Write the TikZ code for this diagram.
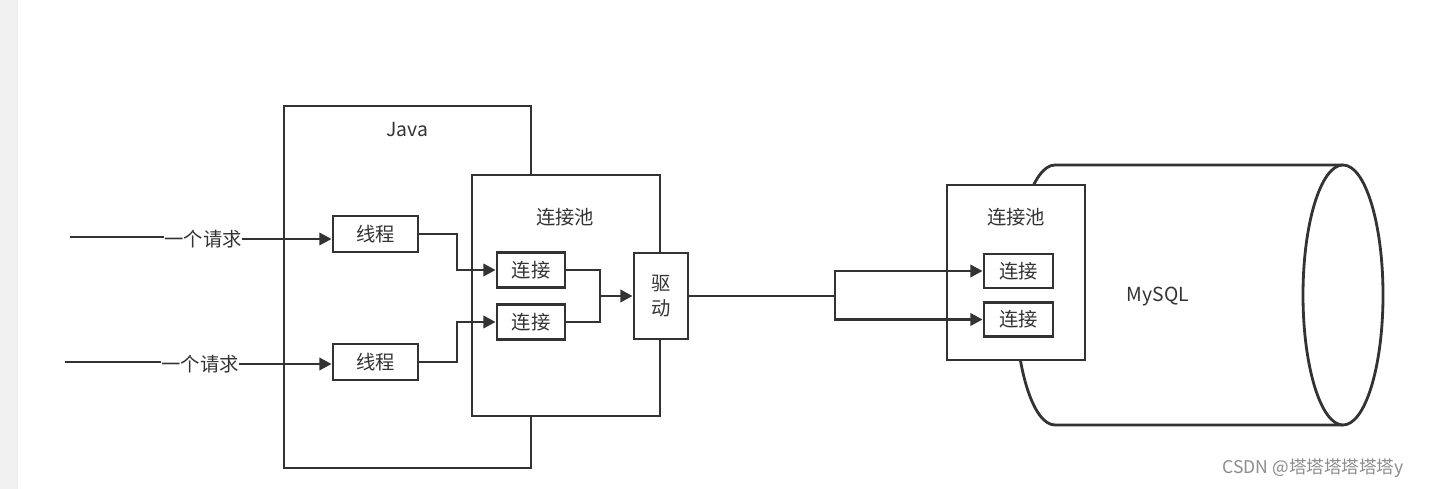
\documentclass[tikz,border=0pt]{standalone}
\usepackage{fontspec}
\setmainfont{Noto Sans CJK SC}
\usetikzlibrary{arrows.meta}
\definecolor{ln}{HTML}{333333}
\begin{document}
\begin{tikzpicture}[x=0.02cm,y=-0.02cm,
  bx/.style={draw=ln,line width=1.6pt,fill=white},
  ar/.style={draw=ln,line width=1.6pt,-{Triangle[length=7pt,width=7pt]}},
  ln/.style={draw=ln,line width=1.6pt},
  tx/.style={font=\fontsize{11pt}{12pt}\selectfont,text=ln,inner sep=0pt}]
\useasboundingbox (0,0) rectangle (1430,489);
\fill[white] (0,0) rectangle (1430,489);
\fill[black!6] (0,0) rectangle (18,489);
% Java
\draw[bx] (284,106) rectangle (531,468);
\node[tx] (java) at (407,130) {Java};
\draw[bx] (472,175) rectangle (660,416);
\node[tx] (pool) at (565,217) {连接池};
\node[bx,minimum width=1.7cm,minimum height=0.72cm,tx] (t1) at (375.5,234) {线程};
\node[bx,minimum width=1.7cm,minimum height=0.72cm,tx] (t2) at (375.5,362) {线程};
\node[bx,minimum width=1.36cm,minimum height=0.7cm,tx] (c1) at (531,270) {连接};
\node[bx,minimum width=1.36cm,minimum height=0.7cm,tx] (c2) at (531,322) {连接};
\node[bx,minimum width=1.08cm,minimum height=1.72cm,tx,align=center] (d) at (661,296) {驱\\[2pt]动};
\coordinate (s1) at (70,237);
\coordinate (s2) at (65,362);
\draw[ln] (s1) -- (165,237);
\node[tx,fill=white] (r1) at (203,239) {一个请求};
\draw[ar] (r1.east) -- (t1.west|-r1.east);
\draw[ln] (s2) -- (163,362);
\node[tx,fill=white] (r2) at (200,364) {一个请求};
\draw[ar] (r2.east) -- (t2.west|-r2.east);
\draw[ar] (t1.east) -- (457,234) -- (457,270) -- (c1.west);
\draw[ar] (t2.east) -- (457,362) -- (457,322) -- (c2.west);
\draw[ln] (c1.east) -- (600,270) -- (600,296);
\draw[ar] (c2.east) -- (600,322) -- (600,296) -- (d.west);
% MySQL
\draw[ln,fill=white] (1343,165) -- (1055,165) arc[start angle=270,end angle=90,x radius=40,y radius=130] -- (1343,425);
\draw[ln,fill=white] (1343,295) ellipse[x radius=40,y radius=130];
\node[tx] (my) at (1158,297) {MySQL};
\draw[bx] (947,185) rectangle (1085,360);
\node[tx] (pool2) at (1016,217) {连接池};
\node[bx,minimum width=1.38cm,minimum height=0.68cm,tx] (m1) at (1018.5,271) {连接};
\node[bx,minimum width=1.38cm,minimum height=0.68cm,tx] (m2) at (1018.5,319.5) {连接};
\coordinate (j) at (835,296);
\draw[ln] (d.east) -- (j);
\draw[ar] (j) -- (835,271) -- (m1.west);
\draw[ar] (j) -- (835,319.5) -- (m2.west);
\node[tx,text=black!45,font=\fontsize{10pt}{11pt}\selectfont] (wm) at (1313,468) {CSDN @塔塔塔塔塔塔y};
\end{tikzpicture}
\end{document}
